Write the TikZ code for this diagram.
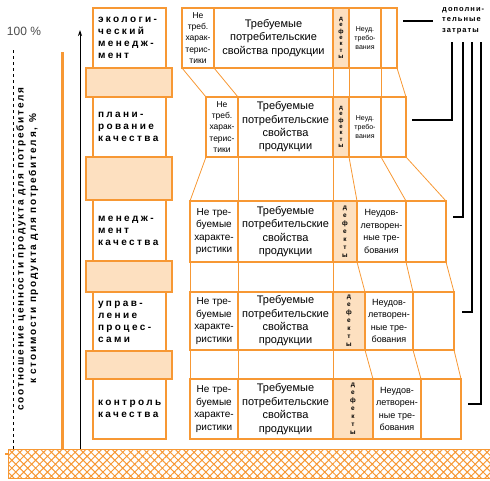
\documentclass[tikz,border=0pt]{standalone}
\usepackage{fontspec}
\setmainfont{Liberation Sans}
\newfontfamily\spaced[LetterSpace=18]{Liberation Sans}
\newfontfamily\spacedL[LetterSpace=24]{Liberation Sans}
\newfontfamily\spacedS[LetterSpace=14]{Liberation Sans}
\usetikzlibrary{arrows.meta,patterns.meta}
\definecolor{myor}{RGB}{247,152,52}
\definecolor{peach}{RGB}{253,224,192}
\begin{document}
\begin{tikzpicture}[x=1pt,y=-1pt,
  cell/.style={draw=myor,line width=1.1pt,inner sep=0pt,outer sep=0pt,anchor=north west,align=center},
  defc/.style={cell,fill=peach},
  conn/.style={draw=myor,line width=0.8pt},
  lab/.style={draw=myor,line width=1.1pt,fill=white,anchor=north west,minimum width=73pt,text width=63pt,inner xsep=5pt,inner ysep=0pt,outer sep=0pt,align=left,font=\fontsize{10}{12}\selectfont\spacedL\bfseries},
  hatchbox/.style={draw=myor,line width=1.3pt,anchor=north west,minimum width=86pt,inner sep=0pt,outer sep=0pt,fill=peach},
  fa/.style={font=\fontsize{8.5}{11.3}\selectfont},
  fb/.style={font=\fontsize{11}{13.4}\selectfont},
  fc/.style={font=\fontsize{10}{12.6}\selectfont},
  fd/.style={font=\fontsize{7}{9}\selectfont},
  fe/.style={font=\fontsize{9}{12.6}\selectfont},
  dA/.style={font=\fontsize{6}{6.3}\selectfont\bfseries},
  dB/.style={font=\fontsize{6.5}{8}\selectfont\bfseries},
  blk/.style={draw=black,line width=1.1pt}
]
\useasboundingbox (0,0) rectangle (490,480);

% ground
\node[draw=myor,line width=1pt,anchor=north west,minimum width=484pt,minimum height=29pt,inner sep=0pt,outer sep=0pt,fill=white,
  postaction={pattern={Hatch[angle=45,distance=5.6pt,line width=1pt]},pattern color=myor}] (gr) at (8,449) {};
\coordinate (tk1) at (5,454); \coordinate (tk2) at (8,454);
\draw[myor,line width=1.2pt] (tk1) -- (tk2);

% axis
\node[text=black!70,font=\fontsize{12}{14}\selectfont] (pc) at (24,31) {100 \%};
\coordinate (ds1) at (13,50); \coordinate (ds2) at (13,449);
\draw[black,line width=0.6pt,dash pattern=on 3pt off 3pt] (ds1) -- (ds2);
\coordinate (ob1) at (62,52); \coordinate (ob2) at (62,449);
\draw[myor,line width=3pt] (ob1) -- (ob2);
\coordinate (ar1) at (80,449); \coordinate (ar2) at (80,30);
\draw[black,line width=0.8pt,-{Stealth[length=6pt,width=4pt]}] (ar1) -- (ar2);
\node[rotate=90,font=\fontsize{10}{12}\selectfont\spaced\bfseries] (ax1) at (21,249) {соотношение ценности продукта для потребителя};
\node[rotate=90,font=\fontsize{10}{12}\selectfont\spaced\bfseries] (ax2) at (33.5,249) {к стоимости продукта для потребителя, \%};

% left labels
\node[lab,minimum height=60pt] (l1) at (93,8) {экологи-\\ческий\\менедж-\\мент};
\node[lab,minimum height=60pt] (l2) at (93,97) {плани-\\рование\\качества};
\node[lab,minimum height=61pt] (l3) at (93,200) {менедж-\\мент\\качества};
\node[lab,minimum height=59pt] (l4) at (93,292) {управ-\\ление\\процес-\\сами};
\node[lab,minimum height=60pt] (l5) at (93,379) {контроль\\качества};
\node[hatchbox,minimum height=29pt] (h1) at (86,68) {};
\node[hatchbox,minimum height=43pt] (h2) at (86,157) {};
\node[hatchbox,minimum height=31pt] (h3) at (86,261) {};
\node[hatchbox,minimum height=28pt] (h4) at (86,351) {};

% row 1
\node[cell,fa,minimum width=32pt,minimum height=60pt] (r1a) at (182,8) {Не\\треб.\\харак-\\терис-\\тики};
\node[cell,fb,minimum width=119pt,minimum height=60pt] (r1b) at (214,8) {Требуемые\\потребительские\\свойства продукции};
\node[defc,dA,minimum width=16pt,minimum height=60pt] (r1c) at (333,8) {д\\е\\ф\\е\\к\\т\\ы};
\node[cell,fd,minimum width=32pt,minimum height=60pt] (r1d) at (349,8) {Неуд.\\требо-\\вания};
\node[cell,minimum width=16pt,minimum height=60pt] (r1e) at (381,8) {};
% row 2
\node[cell,fa,minimum width=32pt,minimum height=60pt] (r2a) at (206,97) {Не\\треб.\\харак-\\терис-\\тики};
\node[cell,fb,minimum width=95pt,minimum height=60pt] (r2b) at (238,97) {Требуемые\\потребительские\\свойства\\продукции};
\node[defc,dA,minimum width=16pt,minimum height=60pt] (r2c) at (333,97) {д\\е\\ф\\е\\к\\т\\ы};
\node[cell,fd,minimum width=32pt,minimum height=60pt] (r2d) at (349,97) {Неуд.\\требо-\\вания};
\node[cell,minimum width=25pt,minimum height=60pt] (r2e) at (381,97) {};
% row 3
\node[cell,fc,minimum width=48pt,minimum height=61pt] (r3a) at (190,201) {Не тре-\\буемые\\характе-\\ристики};
\node[cell,fb,minimum width=95pt,minimum height=61pt] (r3b) at (238,201) {Требуемые\\потребительские\\свойства\\продукции};
\node[defc,dB,minimum width=24pt,minimum height=61pt] (r3c) at (333,201) {д\\е\\ф\\е\\к\\т\\ы};
\node[cell,fe,minimum width=49pt,minimum height=61pt] (r3d) at (357,201) {Неудов-\\летворен-\\ные тре-\\бования};
\node[cell,minimum width=40pt,minimum height=61pt] (r3e) at (406,201) {};
% row 4
\node[cell,fc,minimum width=48pt,minimum height=58pt] (r4a) at (190,292) {Не тре-\\буемые\\характе-\\ристики};
\node[cell,fb,minimum width=95pt,minimum height=58pt] (r4b) at (238,292) {Требуемые\\потребительские\\свойства\\продукции};
\node[defc,dB,minimum width=32pt,minimum height=58pt] (r4c) at (333,292) {д\\е\\ф\\е\\к\\т\\ы};
\node[cell,fe,minimum width=48pt,minimum height=58pt] (r4d) at (365,292) {Неудов-\\летворен-\\ные тре-\\бования};
\node[cell,minimum width=41pt,minimum height=58pt] (r4e) at (413,292) {};
% row 5
\node[cell,fc,minimum width=48pt,minimum height=60pt] (r5a) at (190,379) {Не тре-\\буемые\\характе-\\ристики};
\node[cell,fb,minimum width=95pt,minimum height=60pt] (r5b) at (238,379) {Требуемые\\потребительские\\свойства\\продукции};
\node[defc,dB,minimum width=40pt,minimum height=60pt] (r5c) at (333,379) {д\\е\\ф\\е\\к\\т\\ы};
\node[cell,fe,minimum width=48pt,minimum height=60pt] (r5d) at (373,379) {Неудов-\\летворен-\\ные тре-\\бования};
\node[cell,minimum width=40pt,minimum height=60pt] (r5e) at (421,379) {};

% connectors between rows
\foreach \u/\l in {1/2,2/3,3/4,4/5}{
  \foreach \c in {a,b,c,d,e}{
    \draw[conn] (r\u\c.south west) -- (r\l\c.north west);
  }
  \draw[conn] (r\u e.south east) -- (r\l e.north east);
}

% additional costs
\node[anchor=north west,align=left,inner sep=0pt,font=\fontsize{7.5}{10.5}\selectfont\spacedS\bfseries] (dz) at (442,7) {дополни-\\тельные\\затраты};
\coordinate (k1a) at (403,21); \coordinate (k1b) at (433,21);
\draw[blk] (k1a) -- (k1b);
\coordinate (k2a) at (412,120); \coordinate (k2b) at (452,120); \coordinate (k2c) at (452,42);
\draw[blk] (k2a) -- (k2b) -- (k2c);
\coordinate (k3a) at (453,217); \coordinate (k3b) at (463,217); \coordinate (k3c) at (463,42);
\draw[blk] (k3a) -- (k3b) -- (k3c);
\coordinate (k4a) at (462,312); \coordinate (k4b) at (472,312); \coordinate (k4c) at (472,42);
\draw[blk] (k4a) -- (k4b) -- (k4c);
\coordinate (k5a) at (468,404); \coordinate (k5b) at (481,404); \coordinate (k5c) at (481,42);
\draw[blk] (k5a) -- (k5b) -- (k5c);
\end{tikzpicture}
\end{document}
